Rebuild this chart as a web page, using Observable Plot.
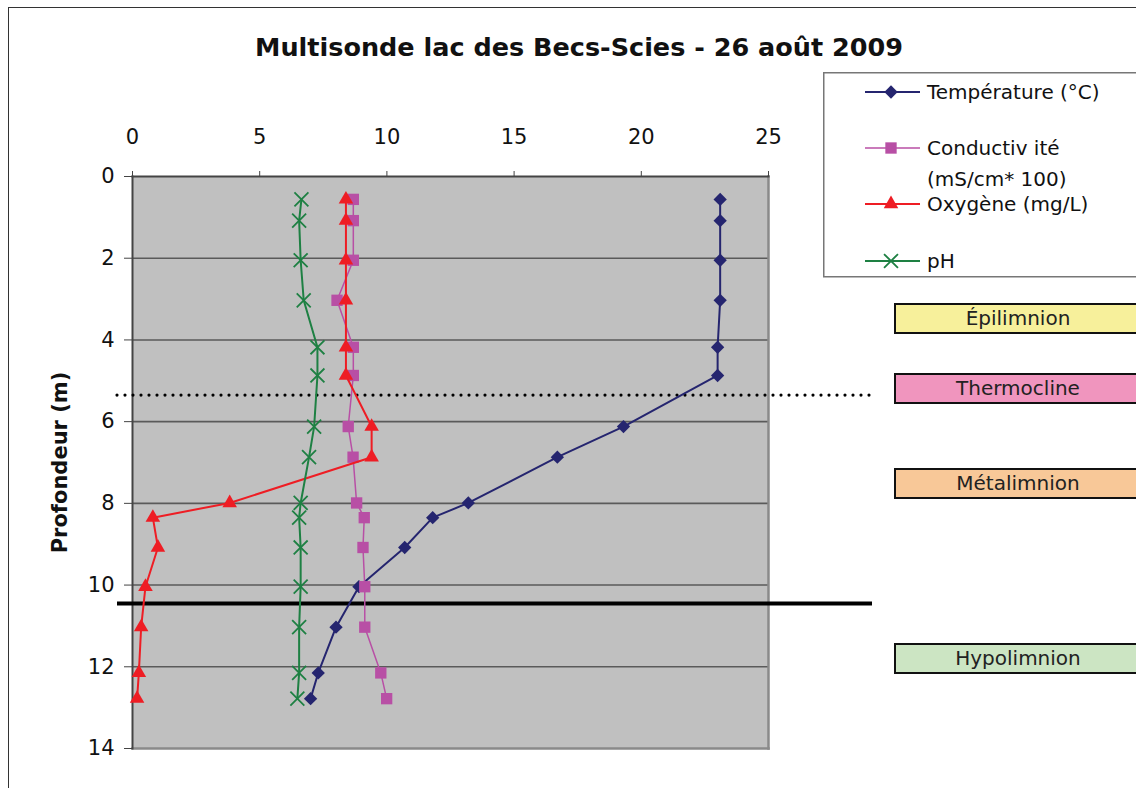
<!DOCTYPE html>
<html><head><meta charset="utf-8">
<script src="https://cdn.jsdelivr.net/npm/d3@7"></script>
<script src="https://cdn.jsdelivr.net/npm/@observablehq/plot@0.6"></script>
<style>
body{margin:0;background:#fff;font-family:"DejaVu Sans",sans-serif;}
#wrap{position:relative;width:1136px;height:788px;overflow:hidden;background:#fff;}
#wrap svg.plot{position:absolute;left:0;top:0;}
#border{position:absolute;left:8px;top:7px;width:1200px;height:900px;border-left:1.5px solid #333;border-top:1.5px solid #333;}
#title{position:absolute;left:79px;width:1000px;top:32px;text-align:center;font-weight:bold;font-size:25.5px;color:#111;white-space:nowrap;}
.layer{position:absolute;left:894px;width:244px;height:27px;border:2.5px solid #111;font-size:20px;line-height:27px;text-align:center;color:#222;}
#legend{position:absolute;left:823px;top:72px;}
</style></head><body>
<div id="wrap"><div id="border"></div><div id="title">Multisonde lac des Becs-Scies - 26 août 2009</div></div>
<script>
// ---- data ----
const depths = [0.56, 1.08, 2.05, 3.03, 4.18, 4.87, 6.12, 6.87, 7.99, 8.35, 9.08, 10.04, 11.03, 12.15, 12.78];
const temperature = [23.1, 23.1, 23.1, 23.1, 23.0, 23.0, 19.3, 16.7, 13.2, 11.8, 10.7, 8.9, 8.0, 7.3, 7.0];
const conductivity = [8.68, 8.68, 8.68, 8.04, 8.68, 8.68, 8.48, 8.67, 8.81, 9.11, 9.06, 9.13, 9.13, 9.76, 9.99];
const oxygen = [8.39, 8.39, 8.39, 8.39, 8.39, 8.39, 9.4, 9.4, 3.82, 0.8, 1.0, 0.51, 0.34, 0.25, 0.18];
const ph = [6.64, 6.55, 6.61, 6.73, 7.27, 7.27, 7.14, 6.94, 6.61, 6.55, 6.61, 6.61, 6.55, 6.55, 6.48];
const seriesNames = ["Température (°C)", "Conductivité (mS/cm*100)", "Oxygène (mg/L)", "pH"];
const legendLines = [["Température (°C)"], ["Conductiv ité", "(mS/cm* 100)"], ["Oxygène (mg/L)"], ["pH"]];
const xTicks = [0, 5, 10, 15, 20, 25];
const yTicks = [0, 2, 4, 6, 8, 10, 12, 14];
const gridDepths = [2, 4, 6, 8, 10, 12];
const thermoclineDepth = [5.35];
const hypolimnionDepth = [10.45];
const layerNames = ["Épilimnion", "Thermocline", "Métalimnion", "Hypolimnion"];
const axisTitle = "Profondeur (m)";

// ---- styles ----
const colors = ["#25256F", "#B84FA5", "#EE1D24", "#1E8043"];
const symbols = ["diamond2", "square", "triangle", "times"];
const radii = [6.0, 6.4, 5.4, 6.4];
const widths = [2, 1.5, 2, 2];
const layerColors = ["#F7F09B", "#F095BE", "#F8C898", "#CCE5C3"];
const layerTops = [303, 373, 468, 643];
const legendRows = [20, 76, 132, 189];

const valuesBySeries = [temperature, conductivity, oxygen, ph];
const rows = valuesBySeries.map((vals, i) => vals.map((v, j) => ({series: seriesNames[i], depth: depths[j], value: v})));

const seriesMarks = rows.flatMap((data, i) => [
  Plot.line(data, {x: "value", y: "depth", stroke: colors[i], strokeWidth: widths[i]}),
  symbols[i] === "times"
    ? Plot.dot(data, {x: "value", y: "depth", symbol: "times", r: radii[i], stroke: colors[i], strokeWidth: 1.8, fill: "none"})
    : Plot.dot(data, {x: "value", y: "depth", symbol: symbols[i], r: radii[i], fill: colors[i], stroke: "none"})
]);

const chart = Plot.plot({
  width: 1136, height: 788,
  marginLeft: 132, marginRight: 368, marginTop: 176, marginBottom: 40,
  x: {domain: [0, 25], axis: null},
  y: {domain: [0, 14], reverse: true, axis: null},
  style: {fontFamily: "'DejaVu Sans', sans-serif", fontSize: "21px", background: "transparent", overflow: "visible", color: "#111"},
  marks: [
    Plot.frame({fill: "#C0C0C0", stroke: "none"}),
    Plot.ruleY(gridDepths, {stroke: "#5a5a5a", strokeWidth: 1.6}),
    Plot.frame({anchor: "right", stroke: "#8a8a8a", strokeWidth: 2.5}),
    Plot.frame({anchor: "bottom", stroke: "#8a8a8a", strokeWidth: 2.5}),
    Plot.axisX({anchor: "top", ticks: xTicks, tickSize: 6, tickPadding: 27, stroke: "#444", label: null, fill: "#111"}),
    Plot.axisY({anchor: "left", ticks: yTicks, tickSize: 8, tickPadding: 10, stroke: "#444", label: null, fill: "#111"}),
    Plot.frame({anchor: "top", stroke: "#444", strokeWidth: 2}),
    Plot.frame({anchor: "left", stroke: "#444", strokeWidth: 2}),
    Plot.ruleY(thermoclineDepth, {stroke: "#000", strokeWidth: 3.2, strokeDasharray: "0 8", strokeLinecap: "round", insetLeft: -15, insetRight: -104}),
    Plot.ruleY(hypolimnionDepth, {stroke: "#000", strokeWidth: 4, insetLeft: -15, insetRight: -104}),
    ...seriesMarks,
    Plot.text([axisTitle], {frameAnchor: "left", textAnchor: "middle", rotate: -90, dx: -72, fontWeight: "bold", fontSize: 21, fill: "#111"})
  ]
});
chart.classList.add("plot");
const wrap = document.getElementById("wrap");
wrap.insertBefore(chart, wrap.firstChild);

// layer labels
layerNames.forEach((name, i) => {
  const d = document.createElement("div");
  d.className = "layer";
  d.style.top = layerTops[i] + "px";
  d.style.background = layerColors[i];
  d.textContent = name;
  wrap.appendChild(d);
});

// legend
const leg = d3.select(wrap).append("svg").attr("id", "legend").attr("width", 320).attr("height", 210);
leg.append("rect").attr("x", 0.75).attr("y", 0.75).attr("width", 330).attr("height", 204)
  .attr("fill", "#fff").attr("stroke", "#777").attr("stroke-width", 1.5);
seriesNames.forEach((name, i) => {
  const g = leg.append("g").attr("transform", `translate(0,${legendRows[i]})`);
  g.append("line").attr("x1", 42).attr("x2", 97).attr("y1", 0).attr("y2", 0).attr("stroke", colors[i]).attr("stroke-width", widths[i]);
  const symMap = {diamond2: d3.symbolDiamond2, square: d3.symbolSquare, triangle: d3.symbolTriangle, times: d3.symbolTimes};
  const p = g.append("path").attr("transform", "translate(68,0)").attr("d", d3.symbol(symMap[symbols[i]], radii[i] * radii[i] * Math.PI)());
  if (symbols[i] === "times") p.attr("fill", "none").attr("stroke", colors[i]).attr("stroke-width", 1.8);
  else p.attr("fill", colors[i]);
  legendLines[i].forEach((t, k) => {
    g.append("text").attr("x", 104).attr("y", k * 31).attr("dy", "0.36em")
      .attr("font-family", "'DejaVu Sans', sans-serif").attr("font-size", 20).attr("fill", "#111").text(t);
  });
});
</script>
</body></html>
